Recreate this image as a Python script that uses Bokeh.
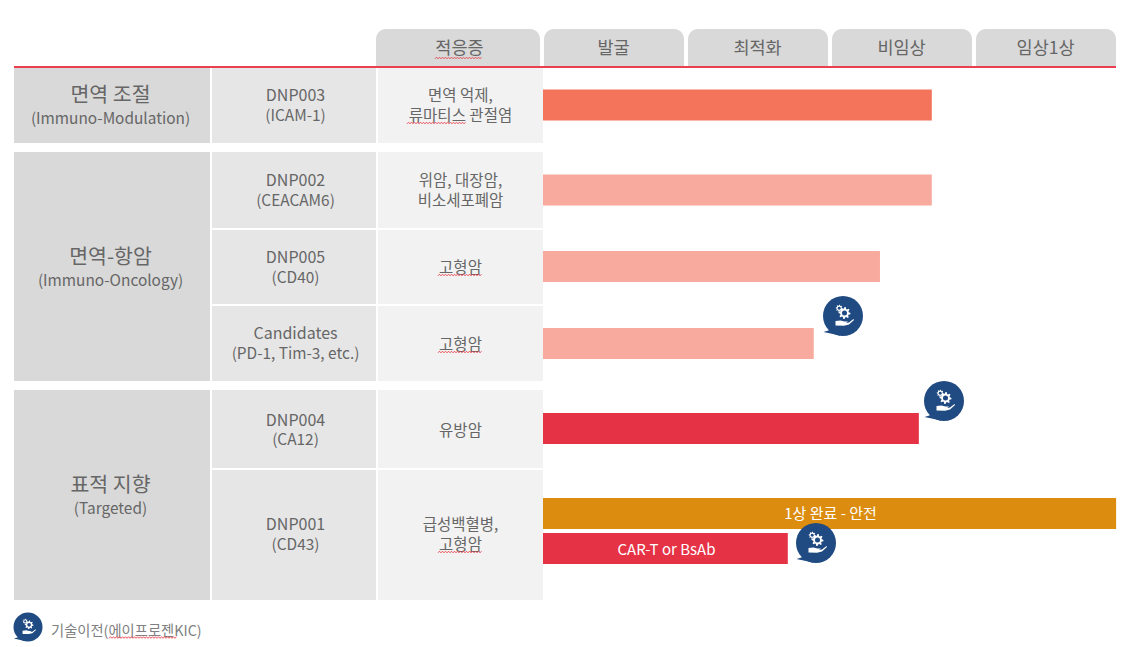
import numpy as np
from bokeh.core.properties import value
from bokeh.embed import file_html
from bokeh.models import Range1d
from bokeh.plotting import figure
from bokeh.resources import INLINE

# stages along the top, bar lengths counted in stages from the start of 발굴
stages = ["발굴", "최적화", "비임상", "임상1상"]
bar_names = ["DNP003", "DNP002", "DNP005", "Candidates", "DNP004", "DNP001 1상", "DNP001 CAR-T"]
bar_values = [2.70, 2.70, 2.34, 1.88, 2.61, 3.98, 1.70]
bar_colors = ["#f4735b", "#f7aa9d", "#f7aa9d", "#f7aa9d", "#e63245", "#dc8d10", "#e63245"]
bar_labels = ["1상 완료 - 안전", "CAR-T or BsAb"]

group_names = ["면역 조절", "면역-항암", "표적 지향"]
group_names_en = ["(Immuno-Modulation)", "(Immuno-Oncology)", "(Targeted)"]
target_line1 = ["DNP003", "DNP002", "DNP005", "Candidates", "DNP004", "DNP001"]
target_line2 = ["(ICAM-1)", "(CEACAM6)", "(CD40)", "(PD-1, Tim-3, etc.)", "(CA12)", "(CD43)"]
indication_line1 = ["면역 억제,", "위암, 대장암,", "", "", "", "급성백혈병,"]
indication_line2 = ["류마티스 관절염", "비소세포폐암", "고형암", "고형암", "유방암", "고형암"]
header_first = "적응증"
legend_text = "기술이전(에이프로젠KIC)"

FONT = value("Noto Sans CJK KR")
TEXT = "#666666"
NAVY = "#1f4a82"

# pixel ranges match the page, the stage range is only for the bars and the stage heads
p = figure(width=1130, height=647, output_backend="svg", toolbar_location=None,
           x_range=Range1d(0.5, 1130.5), y_range=Range1d(647.5, 0.5),
           x_axis_location=None, y_axis_location=None, min_border=0,
           outline_line_color=None)
p.grid.grid_line_color = None
p.extra_x_ranges = {"stage": Range1d((0.5 - 543) / 144, (1130.5 - 543) / 144)}


def tab(left, right, top, bottom, r):
    t = np.linspace(0, np.pi / 2, 8)
    xs = np.r_[left, left + r - r * np.cos(t), right - r + r * np.sin(t), right]
    ys = np.r_[bottom, top + r - r * np.sin(t), top + r - r * np.cos(t), bottom]
    return xs, ys


# header tabs
tab_edges = [(376, 540), (544, 684), (688, 828), (832, 972), (976, 1116)]
for l, r in tab_edges:
    xs, ys = tab(l, r, 29, 66, 10)
    p.patch(xs, ys, fill_color="#d9d9d9", line_color=None)

# table cells
p.quad(left=[14] * 3, right=[210] * 3, top=[68, 152, 390], bottom=[143, 381, 600],
       fill_color="#d9d9d9", line_color=None)
row_top = [68, 152, 230, 306, 390, 470]
row_bottom = [143, 228, 304, 381, 468, 600]
p.quad(left=[212] * 6, right=[376] * 6, top=row_top, bottom=row_bottom,
       fill_color="#e6e6e6", line_color=None)
p.quad(left=[378] * 6, right=[543] * 6, top=row_top, bottom=row_bottom,
       fill_color="#f2f2f2", line_color=None)
p.quad(left=[14], right=[1116], top=[66], bottom=[68], fill_color="#ea3f50", line_color=None)

# bars
bar_y = [105, 190, 266.5, 343.5, 428.5, 513.5, 548.5]
p.hbar(y=bar_y, left=0, right=bar_values, height=31, fill_color=bar_colors, line_color=None,
       x_range_name="stage")


def label(x, y, txt, size="15px", color=TEXT, align="center"):
    p.text(x=x, y=np.array(y) - 1, text=txt, text_font=FONT, text_font_size=size, text_color=color,
           text_align=align, text_baseline="middle")


label([459.5], [47], [header_first], "17.5px")
p.text(x=np.arange(len(stages)) + 0.49, y=[46] * len(stages), text=stages, text_font=FONT,
       text_font_size="17.5px", text_color=TEXT, text_align="center", text_baseline="middle",
       x_range_name="stage")

label([110.5] * 3, [94, 256, 484], group_names, "20.5px")
label([110.5] * 3, [118, 280, 508], group_names_en, "15.4px")
label([295.5] * 6, [94.5, 179.5, 256.5, 332.5, 419.5, 523.5], target_line1, "16px")
label([295.5] * 6, [115, 200, 277, 353, 439, 544], target_line2, "15.4px")
label([460.5] * 6, [95, 180, 267, 344, 430, 524], indication_line1, "15.5px")
label([460.5] * 6, [115, 200, 267, 344, 430, 544], indication_line2, "15.5px")
label([830.5, 666.5], [513, 549], bar_labels, "15px", "#ffffff")
label([51], [630], [legend_text], "14.3px", "#808080", "left")


def gear(cx, cy, r, teeth=8):
    a = np.linspace(0, 2 * np.pi, teeth * 4, endpoint=False)
    rad = np.where(np.arange(teeth * 4) % 4 < 2, r, r * 0.72)
    return cx + rad * np.cos(a), cy + rad * np.sin(a)


def icon(cx, cy, r):
    s = r / 20
    p.patch(cx + s * np.array([-19.5, -10, -3]), cy + s * np.array([16, 13, 19.5]),
            fill_color=NAVY, line_color=None)
    p.circle(x=[cx], y=[cy], radius=r, fill_color=NAVY, line_color=None)
    for gx, gy, gr in [(1.5, -3, 6), (-3.8, -7.8, 3.5)]:
        xs, ys = gear(cx + s * gx, cy + s * gy, s * gr)
        p.patch(xs, ys, fill_color="#ffffff", line_color=None)
        p.circle(x=[cx + s * gx], y=[cy + s * gy], radius=s * gr * 0.42,
                 fill_color=NAVY, line_color=None)
    hx = np.array([-7.5, -2.5, 1.5, 5, 3, 6, 10.5, 11, 6, 1, -7.5])
    hy = np.array([5, 4.5, 5.5, 5.5, 7, 6.5, 3, 4, 8.5, 9.8, 9.5])
    p.patch(cx + s * hx, cy + s * hy, fill_color="#ffffff", line_color=None)


for cx, cy, r in [(843, 316, 20), (944, 401, 20), (816, 543, 20), (28, 627, 14.5)]:
    icon(cx, cy, r)


# red wavy spell check marks under some of the words
def squiggle(x0, x1, y):
    xs = np.arange(x0, x1 + 0.1, 1.5)
    ys = y + 0.8 * (-1.0) ** np.arange(len(xs))
    p.line(xs, ys, line_color="#e8404a", line_width=0.9)


for x0, x1, y in [(435, 482, 58), (407, 466, 123), (438, 482, 275), (438, 482, 352),
                  (438, 482, 552), (681, 715, 557), (109, 177, 637.5)]:
    squiggle(x0, x1, y)

open("out.html", "w").write(file_html(p, INLINE))
